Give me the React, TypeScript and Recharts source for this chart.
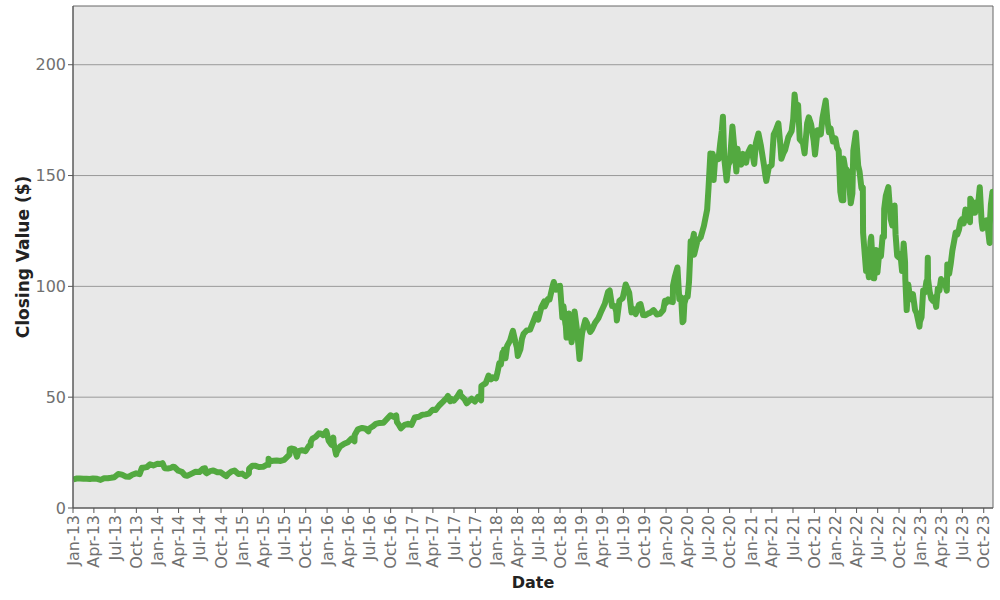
import React from 'react';
import { LineChart, Line, XAxis, YAxis, CartesianGrid, ReferenceArea } from 'recharts';

type P = [string, number];

const prices2013: P[] = [
  ['2013-01-02', 12.87], ['2013-01-15', 13.3], ['2013-01-31', 13.28], ['2013-02-15', 13.25],
  ['2013-02-28', 13.2], ['2013-03-15', 13.1], ['2013-03-28', 13.33], ['2013-04-15', 13.15],
  ['2013-04-30', 12.69], ['2013-05-15', 13.4], ['2013-05-31', 13.46], ['2013-06-14', 13.65],
  ['2013-06-28', 13.89], ['2013-07-15', 15.35], ['2013-07-31', 15.06], ['2013-08-15', 14.25],
  ['2013-08-30', 14.05], ['2013-09-13', 15.0], ['2013-09-30', 15.63], ['2013-10-15', 15.25],
  ['2013-10-25', 18.17], ['2013-10-31', 18.2], ['2013-11-15', 18.45], ['2013-11-29', 19.68],
  ['2013-12-13', 19.2], ['2013-12-31', 19.94],
];

const prices2014: P[] = [
  ['2014-01-15', 19.85], ['2014-01-22', 20.25], ['2014-01-31', 17.94], ['2014-02-14', 17.85],
  ['2014-02-28', 18.1], ['2014-03-07', 18.6], ['2014-03-14', 18.5], ['2014-03-31', 16.82],
  ['2014-04-15', 16.35], ['2014-04-28', 14.75], ['2014-05-08', 14.5], ['2014-05-30', 15.63],
  ['2014-06-13', 16.35], ['2014-06-30', 16.24], ['2014-07-15', 17.75], ['2014-07-24', 17.93],
  ['2014-07-25', 16.2], ['2014-07-31', 15.65], ['2014-08-15', 16.65], ['2014-08-29', 16.95],
  ['2014-09-15', 16.15], ['2014-09-30', 16.12], ['2014-10-15', 14.9], ['2014-10-24', 14.35],
  ['2014-10-31', 15.28], ['2014-11-14', 16.39], ['2014-11-28', 16.93], ['2014-12-15', 15.3],
  ['2014-12-31', 15.52],
];

const prices2015: P[] = [
  ['2015-01-15', 14.35], ['2015-01-29', 15.59], ['2015-01-30', 17.73], ['2015-02-13', 19.09],
  ['2015-02-27', 19.01], ['2015-03-13', 18.5], ['2015-03-31', 18.6], ['2015-04-15', 19.5],
  ['2015-04-23', 19.5], ['2015-04-24', 22.26], ['2015-04-30', 21.09], ['2015-05-15', 21.3],
  ['2015-05-29', 21.46], ['2015-06-15', 21.25], ['2015-06-30', 21.7], ['2015-07-15', 23.25],
  ['2015-07-23', 24.11], ['2015-07-24', 26.47], ['2015-07-31', 26.81], ['2015-08-14', 26.58],
  ['2015-08-24', 23.17], ['2015-08-31', 25.65], ['2015-09-15', 26.1], ['2015-09-30', 25.6],
  ['2015-10-15', 28.1], ['2015-10-22', 28.2], ['2015-10-23', 29.95], ['2015-10-30', 31.3],
  ['2015-11-13', 32.1], ['2015-11-27', 33.67], ['2015-12-04', 33.6], ['2015-12-15', 32.9],
  ['2015-12-29', 34.65], ['2015-12-31', 33.8],
];

const prices2016: P[] = [
  ['2016-01-08', 30.35], ['2016-01-20', 28.5], ['2016-01-28', 31.75], ['2016-01-29', 29.35],
  ['2016-02-09', 24.1], ['2016-02-12', 25.35], ['2016-02-26', 27.75], ['2016-03-15', 29.0],
  ['2016-03-31', 29.68], ['2016-04-15', 31.25], ['2016-04-28', 30.1], ['2016-04-29', 32.98],
  ['2016-05-13', 35.5], ['2016-05-31', 36.14], ['2016-06-15', 35.75], ['2016-06-27', 34.55],
  ['2016-06-30', 35.78], ['2016-07-15', 36.75], ['2016-07-29', 37.94], ['2016-08-15', 38.4],
  ['2016-08-31', 38.46], ['2016-09-15', 40.2], ['2016-09-30', 41.87], ['2016-10-14', 41.1],
  ['2016-10-25', 41.75], ['2016-10-28', 38.82], ['2016-11-04', 37.75], ['2016-11-14', 35.95],
  ['2016-11-30', 37.53], ['2016-12-15', 38.0], ['2016-12-30', 37.5],
];

const prices2017: P[] = [
  ['2017-01-13', 40.85], ['2017-01-31', 41.18], ['2017-02-15', 42.1], ['2017-02-28', 42.25],
  ['2017-03-15', 42.6], ['2017-03-31', 44.33], ['2017-04-13', 44.2], ['2017-04-28', 46.25],
  ['2017-05-15', 48.0], ['2017-05-31', 49.73], ['2017-06-05', 50.55], ['2017-06-09', 48.92],
  ['2017-06-15', 48.21], ['2017-06-16', 49.39], ['2017-06-30', 48.4], ['2017-07-14', 50.09],
  ['2017-07-27', 52.3], ['2017-07-28', 51.0], ['2017-08-15', 49.15], ['2017-08-25', 47.27],
  ['2017-09-15', 49.34], ['2017-09-29', 48.07], ['2017-10-13', 50.15], ['2017-10-26', 48.62],
  ['2017-10-27', 55.05], ['2017-11-15', 56.34], ['2017-11-27', 59.79], ['2017-12-08', 58.1],
  ['2017-12-15', 58.95], ['2017-12-29', 58.47],
];

const prices2018: P[] = [
  ['2018-01-05', 61.45], ['2018-01-12', 65.25], ['2018-01-19', 64.73], ['2018-01-26', 70.1],
  ['2018-02-01', 69.5], ['2018-02-02', 71.5], ['2018-02-08', 67.53], ['2018-02-15', 73.09],
  ['2018-02-28', 75.63], ['2018-03-09', 78.95], ['2018-03-12', 79.92], ['2018-03-23', 74.78],
  ['2018-03-29', 72.37], ['2018-04-02', 68.6], ['2018-04-13', 71.54], ['2018-04-20', 76.39],
  ['2018-04-27', 78.63], ['2018-05-11', 80.15], ['2018-05-25', 80.51], ['2018-06-08', 84.2],
  ['2018-06-20', 87.51], ['2018-06-29', 84.99], ['2018-07-13', 90.65], ['2018-07-25', 93.18],
  ['2018-07-27', 90.87], ['2018-08-10', 94.32], ['2018-08-17', 94.11], ['2018-08-30', 100.12],
  ['2018-09-04', 101.98], ['2018-09-14', 98.51], ['2018-09-28', 100.15], ['2018-10-01', 100.22],
  ['2018-10-11', 85.97], ['2018-10-16', 91.0], ['2018-10-24', 83.21], ['2018-10-26', 82.14],
  ['2018-10-29', 76.95], ['2018-11-02', 83.28], ['2018-11-08', 87.78], ['2018-11-16', 79.67],
  ['2018-11-20', 74.78], ['2018-11-30', 84.51], ['2018-12-03', 88.62], ['2018-12-14', 79.6],
  ['2018-12-24', 67.2], ['2018-12-31', 75.1],
];

const prices2019: P[] = [
  ['2019-01-04', 78.77], ['2019-01-11', 82.03], ['2019-01-18', 84.81], ['2019-01-25', 83.53],
  ['2019-02-01', 81.31], ['2019-02-08', 79.41], ['2019-02-15', 80.4], ['2019-03-01', 83.59],
  ['2019-03-15', 85.62], ['2019-03-29', 89.04], ['2019-04-12', 92.15], ['2019-04-26', 97.53],
  ['2019-05-03', 98.13], ['2019-05-13', 91.14], ['2019-05-24', 91.17], ['2019-05-31', 88.76],
  ['2019-06-03', 84.64], ['2019-06-14', 93.52], ['2019-06-28', 94.68], ['2019-07-11', 100.87],
  ['2019-07-26', 97.15], ['2019-08-05', 88.26], ['2019-08-16', 89.63], ['2019-08-23', 87.48],
  ['2019-09-06', 91.68], ['2019-09-13', 91.97], ['2019-09-24', 87.08], ['2019-10-04', 86.99],
  ['2019-10-18', 87.88], ['2019-10-25', 88.07], ['2019-11-08', 89.3], ['2019-11-22', 87.29],
  ['2019-12-06', 87.58], ['2019-12-20', 89.33], ['2019-12-27', 93.49], ['2019-12-31', 92.39],
];

const prices2020: P[] = [
  ['2020-01-10', 94.16], ['2020-01-17', 93.24], ['2020-01-30', 92.9], ['2020-01-31', 100.44],
  ['2020-02-07', 103.97], ['2020-02-19', 108.51], ['2020-02-27', 94.22], ['2020-03-06', 95.06],
  ['2020-03-12', 83.83], ['2020-03-16', 84.46], ['2020-03-20', 92.31], ['2020-03-27', 95.01],
  ['2020-04-03', 95.33], ['2020-04-09', 102.14], ['2020-04-14', 114.17], ['2020-04-16', 120.41],
  ['2020-04-24', 120.51], ['2020-04-30', 123.7], ['2020-05-01', 114.3], ['2020-05-15', 120.49],
  ['2020-05-29', 122.12], ['2020-06-12', 127.25], ['2020-06-26', 134.65], ['2020-07-02', 144.52],
  ['2020-07-10', 160.0], ['2020-07-13', 155.2], ['2020-07-20', 159.84], ['2020-07-24', 148.03],
  ['2020-07-31', 158.24], ['2020-08-07', 158.38], ['2020-08-14', 157.4], ['2020-08-21', 164.24],
  ['2020-08-28', 170.09], ['2020-09-02', 176.58], ['2020-09-08', 157.49], ['2020-09-18', 147.75],
  ['2020-09-25', 154.76], ['2020-10-02', 156.25], ['2020-10-13', 172.18], ['2020-10-23', 160.22],
  ['2020-10-30', 151.81], ['2020-11-04', 162.06], ['2020-11-09', 157.19], ['2020-11-20', 154.97],
  ['2020-11-27', 159.77], ['2020-12-04', 158.13], ['2020-12-11', 155.82], ['2020-12-18', 160.08],
  ['2020-12-31', 162.85],
];

const prices2021: P[] = [
  ['2021-01-08', 159.13], ['2021-01-15', 155.21], ['2021-01-22', 164.61], ['2021-02-02', 169.0],
  ['2021-02-12', 163.89], ['2021-02-26', 154.65], ['2021-03-04', 150.03], ['2021-03-08', 147.6],
  ['2021-03-19', 153.75], ['2021-03-31', 154.7], ['2021-04-09', 168.61], ['2021-04-16', 169.97],
  ['2021-04-29', 173.57], ['2021-05-07', 164.58], ['2021-05-12', 157.6], ['2021-05-21', 160.18],
  ['2021-05-28', 161.51], ['2021-06-11', 167.34], ['2021-06-25', 170.08], ['2021-07-02', 175.55],
  ['2021-07-08', 186.57], ['2021-07-16', 178.68], ['2021-07-23', 181.9], ['2021-07-30', 166.38],
  ['2021-08-13', 164.7], ['2021-08-20', 160.0], ['2021-08-31', 173.54], ['2021-09-07', 176.28],
  ['2021-09-17', 173.13], ['2021-09-28', 165.8], ['2021-10-04', 159.49], ['2021-10-15', 170.45],
  ['2021-10-29', 168.62], ['2021-11-05', 175.95], ['2021-11-19', 183.83], ['2021-11-26', 175.23],
  ['2021-12-03', 169.49], ['2021-12-10', 171.37], ['2021-12-20', 165.36], ['2021-12-31', 166.72],
];

const prices2022: P[] = [
  ['2022-01-07', 162.55], ['2022-01-14', 161.22], ['2022-01-21', 142.64], ['2022-01-27', 138.87],
  ['2022-02-03', 138.85], ['2022-02-04', 157.64], ['2022-02-11', 153.29], ['2022-02-18', 152.6],
  ['2022-02-24', 151.36], ['2022-03-07', 137.47], ['2022-03-14', 141.85], ['2022-03-18', 161.25],
  ['2022-03-29', 169.32], ['2022-04-08', 154.46], ['2022-04-14', 151.71], ['2022-04-22', 144.35],
  ['2022-04-28', 144.6], ['2022-04-29', 124.28], ['2022-05-06', 114.78], ['2022-05-12', 106.93],
  ['2022-05-20', 107.59], ['2022-05-24', 104.1], ['2022-05-31', 120.21], ['2022-06-03', 122.35],
  ['2022-06-13', 103.67], ['2022-06-16', 103.66], ['2022-06-24', 116.46], ['2022-06-30', 106.21],
  ['2022-07-08', 115.54], ['2022-07-15', 113.55], ['2022-07-22', 122.42], ['2022-07-28', 122.28],
  ['2022-07-29', 134.95], ['2022-08-05', 140.8], ['2022-08-16', 144.78], ['2022-08-26', 130.38],
  ['2022-09-02', 127.51], ['2022-09-12', 136.45], ['2022-09-16', 123.53], ['2022-09-23', 113.78],
  ['2022-09-30', 113.0], ['2022-10-07', 114.56], ['2022-10-14', 106.9], ['2022-10-21', 119.32],
  ['2022-10-27', 110.96], ['2022-10-28', 103.41], ['2022-11-03', 89.3], ['2022-11-10', 100.79],
  ['2022-11-18', 94.14], ['2022-11-30', 96.54], ['2022-12-09', 89.35], ['2022-12-16', 87.86],
  ['2022-12-28', 81.82], ['2022-12-30', 84.0],
];

const prices2023: P[] = [
  ['2023-01-06', 86.08], ['2023-01-13', 98.12], ['2023-01-20', 97.25], ['2023-01-27', 102.24],
  ['2023-01-31', 103.13], ['2023-02-02', 112.91], ['2023-02-03', 103.39], ['2023-02-10', 97.61],
  ['2023-02-17', 94.35], ['2023-02-24', 93.5], ['2023-03-03', 94.9], ['2023-03-10', 90.73],
  ['2023-03-17', 98.95], ['2023-03-24', 98.13], ['2023-03-31', 103.29], ['2023-04-06', 102.06],
  ['2023-04-14', 102.51], ['2023-04-25', 98.04], ['2023-04-27', 109.82], ['2023-04-28', 105.45],
  ['2023-05-05', 105.66], ['2023-05-12', 110.26], ['2023-05-19', 116.25], ['2023-05-26', 120.11],
  ['2023-06-02', 124.25], ['2023-06-09', 123.43], ['2023-06-16', 125.49], ['2023-06-23', 129.33],
  ['2023-06-30', 130.36], ['2023-07-07', 128.36], ['2023-07-14', 134.68], ['2023-07-21', 130.0],
  ['2023-07-28', 132.21], ['2023-08-03', 128.91], ['2023-08-04', 139.57], ['2023-08-11', 138.41],
  ['2023-08-18', 133.22], ['2023-08-25', 133.26], ['2023-08-31', 138.01], ['2023-09-08', 138.23],
  ['2023-09-14', 144.72], ['2023-09-22', 129.12], ['2023-09-26', 125.98], ['2023-09-29', 127.12],
  ['2023-10-06', 127.96], ['2023-10-13', 129.79], ['2023-10-20', 125.17], ['2023-10-26', 119.57],
  ['2023-10-27', 127.74], ['2023-11-01', 137.0], ['2023-11-03', 138.6], ['2023-11-08', 142.71],
  ['2023-11-09', 140.6], ['2023-11-10', 143.56],
];

const tickDates: string[] = [
  '2013-01-01', '2013-04-01', '2013-07-01', '2013-10-01',
  '2014-01-01', '2014-04-01', '2014-07-01', '2014-10-01',
  '2015-01-01', '2015-04-01', '2015-07-01', '2015-10-01',
  '2016-01-01', '2016-04-01', '2016-07-01', '2016-10-01',
  '2017-01-01', '2017-04-01', '2017-07-01', '2017-10-01',
  '2018-01-01', '2018-04-01', '2018-07-01', '2018-10-01',
  '2019-01-01', '2019-04-01', '2019-07-01', '2019-10-01',
  '2020-01-01', '2020-04-01', '2020-07-01', '2020-10-01',
  '2021-01-01', '2021-04-01', '2021-07-01', '2021-10-01',
  '2022-01-01', '2022-04-01', '2022-07-01', '2022-10-01',
  '2023-01-01', '2023-04-01', '2023-07-01', '2023-10-01',
];

const monthNames = ['Jan', 'Feb', 'Mar', 'Apr', 'May', 'Jun', 'Jul', 'Aug', 'Sep', 'Oct', 'Nov', 'Dec'];
const yTicks = [0, 50, 100, 150, 200];

const toTs = (d: string) => Date.parse(d + 'T00:00:00Z');

const allPrices: P[] = [
  ...prices2013, ...prices2014, ...prices2015, ...prices2016, ...prices2017, ...prices2018,
  ...prices2019, ...prices2020, ...prices2021, ...prices2022, ...prices2023,
];
const chartData = allPrices.map(([d, v]) => ({ t: toTs(d), close: v }));
const xTicks = tickDates.map(toTs);
const xMin = toTs('2013-01-01');
const xMax = toTs('2023-11-10');
const yMax = 226.5;

const fmtTick = (ts: number) => {
  const dt = new Date(ts);
  const m = monthNames[dt.getUTCMonth()];
  const yy = String(dt.getUTCFullYear()).slice(2);
  return `${m}-${yy}`;
};

const FONT = '"DejaVu Sans", Verdana, sans-serif';

const XTick = (props: any) => {
  const { x, y, payload } = props;
  return (
    <text
      x={x}
      y={y}
      transform={`rotate(-90, ${x}, ${y})`}
      textAnchor="end"
      dy="0.35em"
      fill="#707070"
      fontSize={16}
      fontFamily={FONT}
    >
      {fmtTick(payload.value)}
    </text>
  );
};

export default function App() {
  return (
    <div style={{ position: 'absolute', left: 0, top: 0, width: 1000, height: 600, background: '#fff' }}>
      <LineChart
        width={1000}
        height={600}
        data={chartData}
        margin={{ top: 6, right: 7, bottom: 0, left: 0 }}
      >
        <CartesianGrid
          horizontal={true}
          vertical={false}
          stroke="#999"
          fill="#e8e8e8"
          fillOpacity={1}
          horizontalValues={[50, 100, 150, 200]}
        />
        <XAxis
          dataKey="t"
          type="number"
          scale="linear"
          domain={[xMin, xMax]}
          ticks={xTicks}
          interval={0}
          allowDataOverflow
          height={92}
          tickSize={5}
          tickMargin={2}
          tick={<XTick />}
          stroke="#555"
          tickLine={{ stroke: '#555' }}
          label={{
            value: 'Date',
            position: 'insideBottom',
            offset: 12,
            style: { fontFamily: FONT, fontWeight: 'bold', fontSize: 16, fill: '#222' },
          }}
        />
        <YAxis
          type="number"
          domain={[0, yMax]}
          ticks={yTicks}
          interval={0}
          allowDataOverflow
          width={73}
          tickSize={5}
          tickMargin={2}
          stroke="#555"
          tick={{ fill: '#707070', fontSize: 16, fontFamily: FONT }}
          label={{
            value: 'Closing Value ($)',
            angle: -90,
            position: 'center',
            dx: -14,
            style: { fontFamily: FONT, fontWeight: 'bold', fontSize: 17, fill: '#222', textAnchor: 'middle' },
          }}
        />
        <ReferenceArea
          x1={xMin}
          x2={xMax}
          y1={0}
          y2={yMax}
          fill="none"
          fillOpacity={0}
          stroke="#666"
          strokeWidth={1}
          ifOverflow="visible"
        />
        <Line
          type="linear"
          dataKey="close"
          stroke="#53a940"
          strokeWidth={6}
          dot={false}
          isAnimationActive={false}
          strokeLinejoin="round"
        />
      </LineChart>
    </div>
  );
}
